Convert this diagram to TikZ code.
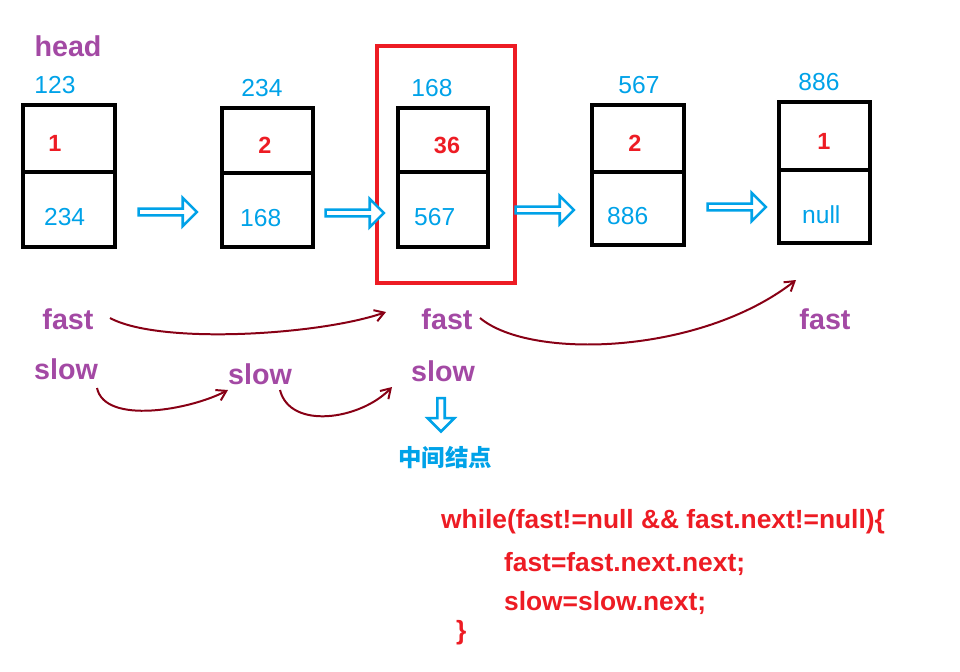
\documentclass[tikz,border=0pt]{standalone}
\usepackage{fontspec}
\setmainfont{Liberation Sans}
\newfontfamily\cjk{Noto Sans CJK SC}
\usetikzlibrary{shapes.arrows,arrows.meta}
\definecolor{pblue}{HTML}{00A2E8}
\definecolor{pred}{HTML}{ED1C24}
\definecolor{ppur}{HTML}{A349A4}
\definecolor{dred}{HTML}{880015}
\begin{document}
\begin{tikzpicture}[x=0.03cm,y=-0.03cm,
  box/.style={line width=3.4pt},
  num/.style={text=pblue,font=\fontsize{21}{22}\selectfont},
  val/.style={text=pred,font=\bfseries\fontsize{20}{22}\selectfont},
  lbl/.style={text=ppur,font=\bfseries\fontsize{24.5}{26}\selectfont},
  code/.style={text=pred,font=\bfseries\fontsize{22.5}{24}\selectfont,anchor=west},
  harr/.style={single arrow,draw=pblue,fill=white,line width=2.2pt,minimum height=1.75cm,minimum width=0.85cm,single arrow head extend=0.12cm,inner sep=0pt},
  curv/.style={dred,line width=1.7pt,-{Straight Barb[length=8pt,width=10pt]}}]
\useasboundingbox (0,0) rectangle (960,671);
\node[lbl] (head) at (68,46) {head};
% boxes
\foreach \n/\xa/\xb/\ya/\ym/\yb/\tx/\top/\vx/\v/\bx/\bot in {
  a/23/115/105/172/247/55/123/55/1/40/234,
  b/222/313/108/173/247/262/234/265/2/236/168,
  c/398/488/108/172/247/432/168/447/36/410/567,
  d/592/684/105/172/245/639/567/635/2/603/886,
  e/779/870/102/170/243/819/886/824/1/798/null}{
  \draw[box] (\xa,\ya) rectangle (\xb,\yb);
  \draw[box] (\xa,\ym) -- (\xb,\ym);
  \node[num] (t\n) at (\tx,{\ya-20}) {\top};
  \node[val] (v\n) at (\vx,{(\ya+\ym)/2+5}) {\v};
  \node[num,anchor=west] (b\n) at (\bx,{(\ym+\yb)/2+8}) {\bot};
}
\draw[pred,line width=2.6pt] (377,46) rectangle (515,283);
\node[harr] (h1) at (166,212) {};
\node[harr] (h2) at (353,213) {};
\node[harr] (h3) at (543,210) {};
\node[harr] (h4) at (735,207) {};
\node[single arrow,draw=pblue,fill=white,line width=2.2pt,minimum height=1cm,minimum width=0.8cm,single arrow head extend=0.1cm,inner sep=0pt,shape border rotate=270] (down) at (441,413) {};
\node[lbl] (f1) at (68,319) {fast};
\node[lbl] (f2) at (447,319) {fast};
\node[lbl] (f3) at (825,319) {fast};
\node[lbl] (s1) at (66,369) {slow};
\node[lbl] (s2) at (260,374) {slow};
\node[lbl] (s3) at (443,371) {slow};
\coordinate (a1) at (110,318); \coordinate (a1e) at (386,312);
\coordinate (a2) at (480,318); \coordinate (a2e) at (796,280);
\coordinate (a3) at (97,388); \coordinate (a3e) at (228,390);
\coordinate (a4) at (280,390); \coordinate (a4e) at (392,387);
\draw[curv] (a1) .. controls (160,345) and (320,335) .. (a1e);
\draw[curv] (a2) .. controls (530,360) and (700,355) .. (a2e);
\draw[curv] (a3) .. controls (105,425) and (190,410) .. (a3e);
\draw[curv] (a4) .. controls (290,430) and (360,420) .. (a4e);
\node[text=pblue,font=\cjk\bfseries\fontsize{20}{22}\selectfont] (mid) at (445,458) {中间结点};
\node[code] (c1) at (437,522) {while(fast!=null \&\& fast.next!=null)\{};
\node[code] (c2) at (500,564) {fast=fast.next.next;};
\node[code] (c3) at (500,603) {slow=slow.next;};
\node[code] (c4) at (452,633) {\}};
\end{tikzpicture}
\end{document}
